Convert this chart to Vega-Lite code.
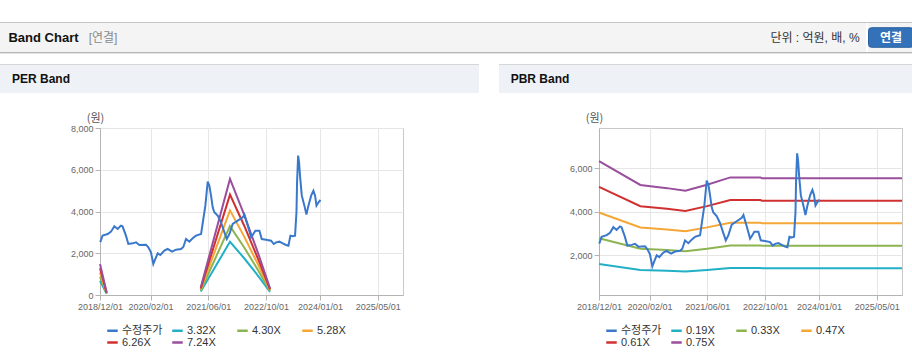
{
  "$schema": "https://vega.github.io/schema/vega-lite/v6.json",
  "padding": 0,
  "background": "#ffffff",
  "spacing": 0,
  "resolve": {"scale": {"color": "independent"}, "legend": {"color": "independent"}},
  "config": {
    "view": {"stroke": null},
    "concat": {"spacing": 0},
    "axis": {
      "labelFont": "Liberation Sans",
      "labelFontSize": 9,
      "labelColor": "#666666",
      "domainColor": "#b4b4b4",
      "tickColor": "#b4b4b4",
      "tickSize": 5,
      "gridColor": "#e6e6e6",
      "labelPadding": 2,
      "titleFont": "Noto Sans CJK KR",
      "titleFontSize": 11,
      "titleFontWeight": "normal",
      "titleColor": "#555555"
    },
    "legend": {
      "symbolType": "stroke",
      "symbolSize": 110,
      "symbolStrokeWidth": 2.5,
      "labelFontSize": 11,
      "labelFont": "Liberation Sans, Noto Sans CJK KR",
      "labelColor": "#333333",
      "labelOffset": 3,
      "columnPadding": 4,
      "rowPadding": 0,
      "gridAlign": "all",
      "padding": 0,
      "symbolOpacity": 1
    }
  },
  "datasets": {
    "price": [
      {"d": "2018-12-03", "v": 2530}, {"d": "2018-12-23", "v": 2843}, {"d": "2019-02-04", "v": 2922},
      {"d": "2019-03-04", "v": 3034}, {"d": "2019-04-01", "v": 3290}, {"d": "2019-04-29", "v": 3162},
      {"d": "2019-05-27", "v": 3322}, {"d": "2019-06-09", "v": 3290}, {"d": "2019-07-08", "v": 2843},
      {"d": "2019-07-28", "v": 2443}, {"d": "2019-09-03", "v": 2475}, {"d": "2019-10-01", "v": 2523},
      {"d": "2019-10-29", "v": 2395}, {"d": "2019-12-24", "v": 2411}, {"d": "2020-01-13", "v": 2284},
      {"d": "2020-02-04", "v": 2044}, {"d": "2020-02-24", "v": 1485}, {"d": "2020-03-12", "v": 1725},
      {"d": "2020-04-01", "v": 1996}, {"d": "2020-04-23", "v": 1916}, {"d": "2020-05-27", "v": 2124},
      {"d": "2020-06-24", "v": 2204}, {"d": "2020-07-31", "v": 2076}, {"d": "2020-09-03", "v": 2172},
      {"d": "2020-10-15", "v": 2204}, {"d": "2020-11-03", "v": 2300}, {"d": "2020-11-26", "v": 2683},
      {"d": "2020-12-24", "v": 2555}, {"d": "2021-01-21", "v": 2715}, {"d": "2021-02-18", "v": 2843},
      {"d": "2021-04-02", "v": 2922}, {"d": "2021-04-21", "v": 3641}, {"d": "2021-05-08", "v": 4280},
      {"d": "2021-05-28", "v": 5430}, {"d": "2021-06-11", "v": 5238}, {"d": "2021-06-25", "v": 4759},
      {"d": "2021-07-09", "v": 4200}, {"d": "2021-07-23", "v": 3961}, {"d": "2021-08-20", "v": 3801},
      {"d": "2021-09-17", "v": 3481}, {"d": "2021-10-16", "v": 3002}, {"d": "2021-11-05", "v": 2683},
      {"d": "2021-11-27", "v": 2922}, {"d": "2021-12-25", "v": 3402}, {"d": "2022-02-05", "v": 3561},
      {"d": "2022-03-20", "v": 3721}, {"d": "2022-04-03", "v": 3850}, {"d": "2022-05-01", "v": 3322},
      {"d": "2022-05-29", "v": 2763}, {"d": "2022-06-12", "v": 2875}, {"d": "2022-07-04", "v": 3082},
      {"d": "2022-08-07", "v": 3082}, {"d": "2022-08-27", "v": 2683}, {"d": "2022-10-02", "v": 2651},
      {"d": "2022-11-14", "v": 2603}, {"d": "2022-12-06", "v": 2443}, {"d": "2022-12-26", "v": 2523},
      {"d": "2023-01-23", "v": 2555}, {"d": "2023-02-20", "v": 2475}, {"d": "2023-03-20", "v": 2395},
      {"d": "2023-04-09", "v": 2363}, {"d": "2023-04-26", "v": 2843}, {"d": "2023-05-16", "v": 2811},
      {"d": "2023-06-04", "v": 2843}, {"d": "2023-06-16", "v": 3961}, {"d": "2023-06-21", "v": 5398},
      {"d": "2023-06-30", "v": 6680}, {"d": "2023-07-08", "v": 6356}, {"d": "2023-07-17", "v": 5637},
      {"d": "2023-07-31", "v": 4759}, {"d": "2023-08-22", "v": 4280}, {"d": "2023-09-08", "v": 3849},
      {"d": "2023-09-25", "v": 4280}, {"d": "2023-10-18", "v": 4759}, {"d": "2023-11-06", "v": 4999},
      {"d": "2023-11-20", "v": 4759}, {"d": "2023-12-02", "v": 4280}, {"d": "2023-12-19", "v": 4440},
      {"d": "2024-01-05", "v": 4552}
    ],
    "per": [
      {"d": "2018-12-01", "s": "3.32X", "v": 681}, {"d": "2019-01-26", "s": "3.32X", "v": 60}, {"d": "2019-06-01", "s": "3.32X", "v": null},
      {"d": "2021-03-30", "s": "3.32X", "v": 166}, {"d": "2021-12-02", "s": "3.32X", "v": 2550}, {"d": "2022-04-01", "s": "3.32X", "v": 1760},
      {"d": "2022-08-01", "s": "3.32X", "v": 880}, {"d": "2022-11-05", "s": "3.32X", "v": 146},
      {"d": "2018-12-01", "s": "4.30X", "v": 882}, {"d": "2019-01-26", "s": "4.30X", "v": 77}, {"d": "2019-06-01", "s": "4.30X", "v": null},
      {"d": "2021-03-30", "s": "4.30X", "v": 215}, {"d": "2021-12-02", "s": "4.30X", "v": 3302}, {"d": "2022-04-01", "s": "4.30X", "v": 2279},
      {"d": "2022-08-01", "s": "4.30X", "v": 1140}, {"d": "2022-11-05", "s": "4.30X", "v": 189},
      {"d": "2018-12-01", "s": "5.28X", "v": 1082}, {"d": "2019-01-26", "s": "5.28X", "v": 95}, {"d": "2019-06-01", "s": "5.28X", "v": null},
      {"d": "2021-03-30", "s": "5.28X", "v": 264}, {"d": "2021-12-02", "s": "5.28X", "v": 4055}, {"d": "2022-04-01", "s": "5.28X", "v": 2798},
      {"d": "2022-08-01", "s": "5.28X", "v": 1399}, {"d": "2022-11-05", "s": "5.28X", "v": 232},
      {"d": "2018-12-01", "s": "6.26X", "v": 1283}, {"d": "2019-01-26", "s": "6.26X", "v": 113}, {"d": "2019-06-01", "s": "6.26X", "v": null},
      {"d": "2021-03-30", "s": "6.26X", "v": 313}, {"d": "2021-12-02", "s": "6.26X", "v": 4808}, {"d": "2022-04-01", "s": "6.26X", "v": 3318},
      {"d": "2022-08-01", "s": "6.26X", "v": 1659}, {"d": "2022-11-05", "s": "6.26X", "v": 275},
      {"d": "2018-12-01", "s": "7.24X", "v": 1484}, {"d": "2019-01-26", "s": "7.24X", "v": 130}, {"d": "2019-06-01", "s": "7.24X", "v": null},
      {"d": "2021-03-30", "s": "7.24X", "v": 362}, {"d": "2021-12-02", "s": "7.24X", "v": 5560}, {"d": "2022-04-01", "s": "7.24X", "v": 3837},
      {"d": "2022-08-01", "s": "7.24X", "v": 1919}, {"d": "2022-11-05", "s": "7.24X", "v": 319}
    ],
    "pbr": [
      {"d": "2018-12-01", "s": "0.19X", "v": 1602}, {"d": "2019-11-15", "s": "0.19X", "v": 1324}, {"d": "2020-06-27", "s": "0.19X", "v": 1287},
      {"d": "2020-11-29", "s": "0.19X", "v": 1256}, {"d": "2021-05-31", "s": "0.19X", "v": 1325}, {"d": "2021-12-13", "s": "0.19X", "v": 1412},
      {"d": "2022-08-24", "s": "0.19X", "v": 1412}, {"d": "2022-09-07", "s": "0.19X", "v": 1400}, {"d": "2025-12-01", "s": "0.19X", "v": 1400},
      {"d": "2018-12-01", "s": "0.33X", "v": 2782}, {"d": "2019-11-15", "s": "0.33X", "v": 2300}, {"d": "2020-06-27", "s": "0.33X", "v": 2235},
      {"d": "2020-11-29", "s": "0.33X", "v": 2181}, {"d": "2021-05-31", "s": "0.33X", "v": 2302}, {"d": "2021-12-13", "s": "0.33X", "v": 2452},
      {"d": "2022-08-24", "s": "0.33X", "v": 2452}, {"d": "2022-09-07", "s": "0.33X", "v": 2432}, {"d": "2025-12-01", "s": "0.33X", "v": 2432},
      {"d": "2018-12-01", "s": "0.47X", "v": 3962}, {"d": "2019-11-15", "s": "0.47X", "v": 3276}, {"d": "2020-06-27", "s": "0.47X", "v": 3183},
      {"d": "2020-11-29", "s": "0.47X", "v": 3106}, {"d": "2021-05-31", "s": "0.47X", "v": 3279}, {"d": "2021-12-13", "s": "0.47X", "v": 3492},
      {"d": "2022-08-24", "s": "0.47X", "v": 3492}, {"d": "2022-09-07", "s": "0.47X", "v": 3464}, {"d": "2025-12-01", "s": "0.47X", "v": 3464},
      {"d": "2018-12-01", "s": "0.61X", "v": 5142}, {"d": "2019-11-15", "s": "0.61X", "v": 4252}, {"d": "2020-06-27", "s": "0.61X", "v": 4132},
      {"d": "2020-11-29", "s": "0.61X", "v": 4032}, {"d": "2021-05-31", "s": "0.61X", "v": 4255}, {"d": "2021-12-13", "s": "0.61X", "v": 4532},
      {"d": "2022-08-24", "s": "0.61X", "v": 4532}, {"d": "2022-09-07", "s": "0.61X", "v": 4496}, {"d": "2025-12-01", "s": "0.61X", "v": 4496},
      {"d": "2018-12-01", "s": "0.75X", "v": 6323}, {"d": "2019-11-15", "s": "0.75X", "v": 5228}, {"d": "2020-06-27", "s": "0.75X", "v": 5080},
      {"d": "2020-11-29", "s": "0.75X", "v": 4957}, {"d": "2021-05-31", "s": "0.75X", "v": 5232}, {"d": "2021-12-13", "s": "0.75X", "v": 5573},
      {"d": "2022-08-24", "s": "0.75X", "v": 5573}, {"d": "2022-09-07", "s": "0.75X", "v": 5528}, {"d": "2025-12-01", "s": "0.75X", "v": 5528}
    ]
  },
  "vconcat": [
    {"width": 912, "height": 22, "data": {"values": []}, "mark": {"type": "text"}, "encoding": {"text": {"value": ""}}},
    {"width": 912, "height": 1, "view": {"fill": "#c4c4c4", "stroke": null}, "data": {"values": []}, "mark": {"type": "text"}, "encoding": {"text": {"value": ""}}},
    {
      "hconcat": [
        {"width": 87, "height": 29, "view": {"fill": "#f4f4f4", "stroke": null}, "data": {"values": [{}]},
         "mark": {"type": "text", "font": "Liberation Sans", "fontSize": 13, "fontWeight": "bold", "fill": "#111111"},
         "encoding": {"text": {"value": "Band Chart"}}},
        {"width": 32, "height": 29, "view": {"fill": "#f4f4f4", "stroke": null}, "data": {"values": [{}]},
         "mark": {"type": "text", "font": "Liberation Sans, Noto Sans CJK KR", "fontSize": 12, "fill": "#8a8a8a"},
         "encoding": {"text": {"value": "[연결]"}}},
        {"width": 648, "height": 29, "view": {"fill": "#f4f4f4", "stroke": null}, "data": {"values": []},
         "mark": {"type": "text"}, "encoding": {"text": {"value": ""}}},
        {"width": 96, "height": 29, "view": {"fill": "#f4f4f4", "stroke": null}, "data": {"values": [{}]},
         "mark": {"type": "text", "font": "Liberation Sans, Noto Sans CJK KR", "fontSize": 12, "fill": "#333333"},
         "encoding": {"text": {"value": "단위 : 억원, 배, %"}}},
        {"width": 3, "height": 29, "view": {"fill": "#f4f4f4", "stroke": null}, "data": {"values": []},
         "mark": {"type": "text"}, "encoding": {"text": {"value": ""}}},
        {"width": 46, "height": 29, "view": {"fill": "#f4f4f4", "stroke": null}, "data": {"values": [{}]},
         "layer": [
           {"mark": {"type": "point", "shape": "M-0.87,-0.435 L0.87,-0.435 Q1,-0.435 1,-0.305 L1,0.305 Q1,0.435 0.87,0.435 L-0.87,0.435 Q-1,0.435 -1,0.305 L-1,-0.305 Q-1,-0.435 -0.87,-0.435 Z", "size": 2025, "filled": true, "fill": "#3372b9", "stroke": "#2a609f", "strokeWidth": 1, "opacity": 1}, "encoding": {}},
           {"mark": {"type": "text", "font": "Noto Sans CJK KR", "fontSize": 12, "fontWeight": "bold", "fill": "#ffffff"}, "encoding": {"text": {"value": "연결"}}}
         ]}
      ],
      "spacing": 0
    },
    {"width": 912, "height": 1, "view": {"fill": "#b5b5b5", "stroke": null}, "data": {"values": []}, "mark": {"type": "text"}, "encoding": {"text": {"value": ""}}},
    {"width": 912, "height": 1, "view": {"fill": "#e4e4e4", "stroke": null}, "data": {"values": []}, "mark": {"type": "text"}, "encoding": {"text": {"value": ""}}},
    {"width": 912, "height": 10, "data": {"values": []}, "mark": {"type": "text"}, "encoding": {"text": {"value": ""}}},
    {
      "hconcat": [
        {
          "vconcat": [
            {"width": 479, "height": 1, "view": {"fill": "#d6d6d6", "stroke": null}, "data": {"values": []}, "mark": {"type": "text"}, "encoding": {"text": {"value": ""}}},
            {
              "hconcat": [
                {"width": 82, "height": 28, "view": {"fill": "#eef2f7", "stroke": null}, "data": {"values": [{}]},
                 "mark": {"type": "text", "font": "Liberation Sans", "fontSize": 12, "fontWeight": "bold", "fill": "#111111"},
                 "encoding": {"text": {"value": "PER Band"}}},
                {"width": 397, "height": 28, "view": {"fill": "#eef2f7", "stroke": null}, "data": {"values": []},
                 "mark": {"type": "text"}, "encoding": {"text": {"value": ""}}}
              ],
              "spacing": 0
            },
            {"width": 479, "height": 18, "data": {"values": []}, "mark": {"type": "text"}, "encoding": {"text": {"value": ""}}},
            {
              "hconcat": [
                {"width": 1, "height": 1, "data": {"values": []}, "mark": {"type": "text"}, "encoding": {"text": {"value": ""}}},
                {
                  "width": 303, "height": 167,
                  "view": {"stroke": "#c8c8c8", "fill": "#ffffff"},
                  "encoding": {
                    "x": {"field": "d", "type": "temporal",
                          "scale": {"type": "utc", "domain": [{"year": 2018, "month": 12, "date": 1, "utc": true}, {"year": 2025, "month": 12, "date": 1, "utc": true}]},
                          "axis": {"values": [{"year": 2018, "month": 12, "date": 1, "utc": true}, {"year": 2020, "month": 2, "date": 1, "utc": true}, {"year": 2021, "month": 6, "date": 1, "utc": true}, {"year": 2022, "month": 10, "date": 1, "utc": true}, {"year": 2024, "month": 1, "date": 1, "utc": true}, {"year": 2025, "month": 5, "date": 1, "utc": true}],
                                   "labelExpr": "utcFormat(datum.value, '%Y/%m/%d')", "title": null, "grid": true, "labelFlush": false, "labelOverlap": false}},
                    "y": {"field": "v", "type": "quantitative",
                          "scale": {"domain": [0, 8000], "nice": false, "zero": false},
                          "axis": {"values": [0, 2000, 4000, 6000, 8000], "labelExpr": "format(datum.value, ',')", "grid": true, "minExtent": 98, "maxExtent": 98, "title": "(원)", "titleAngle": 0, "titleX": -5, "titleY": -10, "titleAlign": "center", "titleBaseline": "middle"}}
                  },
                  "layer": [
                    {
                      "data": {"name": "per"},
                      "mark": {"type": "line", "strokeWidth": 2, "invalid": "break-paths-show-domains"},
                      "encoding": {
                        "color": {"field": "s", "type": "nominal",
                                  "scale": {"domain": ["수정주가", "3.32X", "4.30X", "5.28X", "6.26X", "7.24X"], "range": ["#3a78cc", "#22b0c6", "#8cb450", "#f4a636", "#d03030", "#9a4f9c"]},
                                  "legend": {"orient": "none", "legendX": 6, "legendY": 196, "title": null, "direction": "horizontal", "columns": 4}}
                      }
                    },
                    {
                      "data": {"name": "price"},
                      "mark": {"type": "line", "strokeWidth": 2},
                      "encoding": {
                        "color": {"datum": "수정주가", "type": "nominal"}
                      }
                    }
                  ]
                }
              ],
              "spacing": 0,
              "resolve": {"scale": {"color": "independent"}, "legend": {"color": "independent"}}
            }
          ],
          "spacing": 0,
          "resolve": {"scale": {"color": "independent"}, "legend": {"color": "independent"}}
        },
        {
          "vconcat": [
            {"width": 413, "height": 1, "view": {"fill": "#d6d6d6", "stroke": null}, "data": {"values": []}, "mark": {"type": "text"}, "encoding": {"text": {"value": ""}}},
            {
              "hconcat": [
                {"width": 82, "height": 28, "view": {"fill": "#eef2f7", "stroke": null}, "data": {"values": [{}]},
                 "mark": {"type": "text", "font": "Liberation Sans", "fontSize": 12, "fontWeight": "bold", "fill": "#111111"},
                 "encoding": {"text": {"value": "PBR Band"}}},
                {"width": 331, "height": 28, "view": {"fill": "#eef2f7", "stroke": null}, "data": {"values": []},
                 "mark": {"type": "text"}, "encoding": {"text": {"value": ""}}}
              ],
              "spacing": 0
            },
            {"width": 413, "height": 18, "data": {"values": []}, "mark": {"type": "text"}, "encoding": {"text": {"value": ""}}},
            {
              "hconcat": [
                {"width": 1, "height": 1, "data": {"values": []}, "mark": {"type": "text"}, "encoding": {"text": {"value": ""}}},
                {
                  "width": 303, "height": 167,
                  "view": {"stroke": "#c8c8c8", "fill": "#ffffff"},
                  "encoding": {
                    "x": {"field": "d", "type": "temporal",
                          "scale": {"type": "utc", "domain": [{"year": 2018, "month": 12, "date": 1, "utc": true}, {"year": 2025, "month": 12, "date": 1, "utc": true}]},
                          "axis": {"values": [{"year": 2018, "month": 12, "date": 1, "utc": true}, {"year": 2020, "month": 2, "date": 1, "utc": true}, {"year": 2021, "month": 6, "date": 1, "utc": true}, {"year": 2022, "month": 10, "date": 1, "utc": true}, {"year": 2024, "month": 1, "date": 1, "utc": true}, {"year": 2025, "month": 5, "date": 1, "utc": true}],
                                   "labelExpr": "utcFormat(datum.value, '%Y/%m/%d')", "title": null, "grid": true, "labelFlush": false, "labelOverlap": false}},
                    "y": {"field": "v", "type": "quantitative",
                          "scale": {"domain": [175, 7840], "nice": false, "zero": false},
                          "axis": {"values": [2000, 4000, 6000], "labelExpr": "format(datum.value, ',')", "grid": true, "minExtent": 98, "maxExtent": 98, "title": "(원)", "titleAngle": 0, "titleX": -5, "titleY": -10, "titleAlign": "center", "titleBaseline": "middle"}}
                  },
                  "layer": [
                    {
                      "data": {"name": "pbr"},
                      "mark": {"type": "line", "strokeWidth": 2},
                      "encoding": {
                        "color": {"field": "s", "type": "nominal",
                                  "scale": {"domain": ["수정주가", "0.19X", "0.33X", "0.47X", "0.61X", "0.75X"], "range": ["#3a78cc", "#22b0c6", "#8cb450", "#f4a636", "#d03030", "#9a4f9c"]},
                                  "legend": {"orient": "none", "legendX": 6, "legendY": 196, "title": null, "direction": "horizontal", "columns": 4}}
                      }
                    },
                    {
                      "data": {"name": "price"},
                      "mark": {"type": "line", "strokeWidth": 2},
                      "encoding": {
                        "color": {"datum": "수정주가", "type": "nominal"}
                      }
                    }
                  ]
                }
              ],
              "spacing": 0,
              "resolve": {"scale": {"color": "independent"}, "legend": {"color": "independent"}}
            }
          ],
          "spacing": 0,
          "resolve": {"scale": {"color": "independent"}, "legend": {"color": "independent"}}
        }
      ],
      "spacing": 20,
      "resolve": {"scale": {"color": "independent"}, "legend": {"color": "independent"}}
    }
  ]
}
